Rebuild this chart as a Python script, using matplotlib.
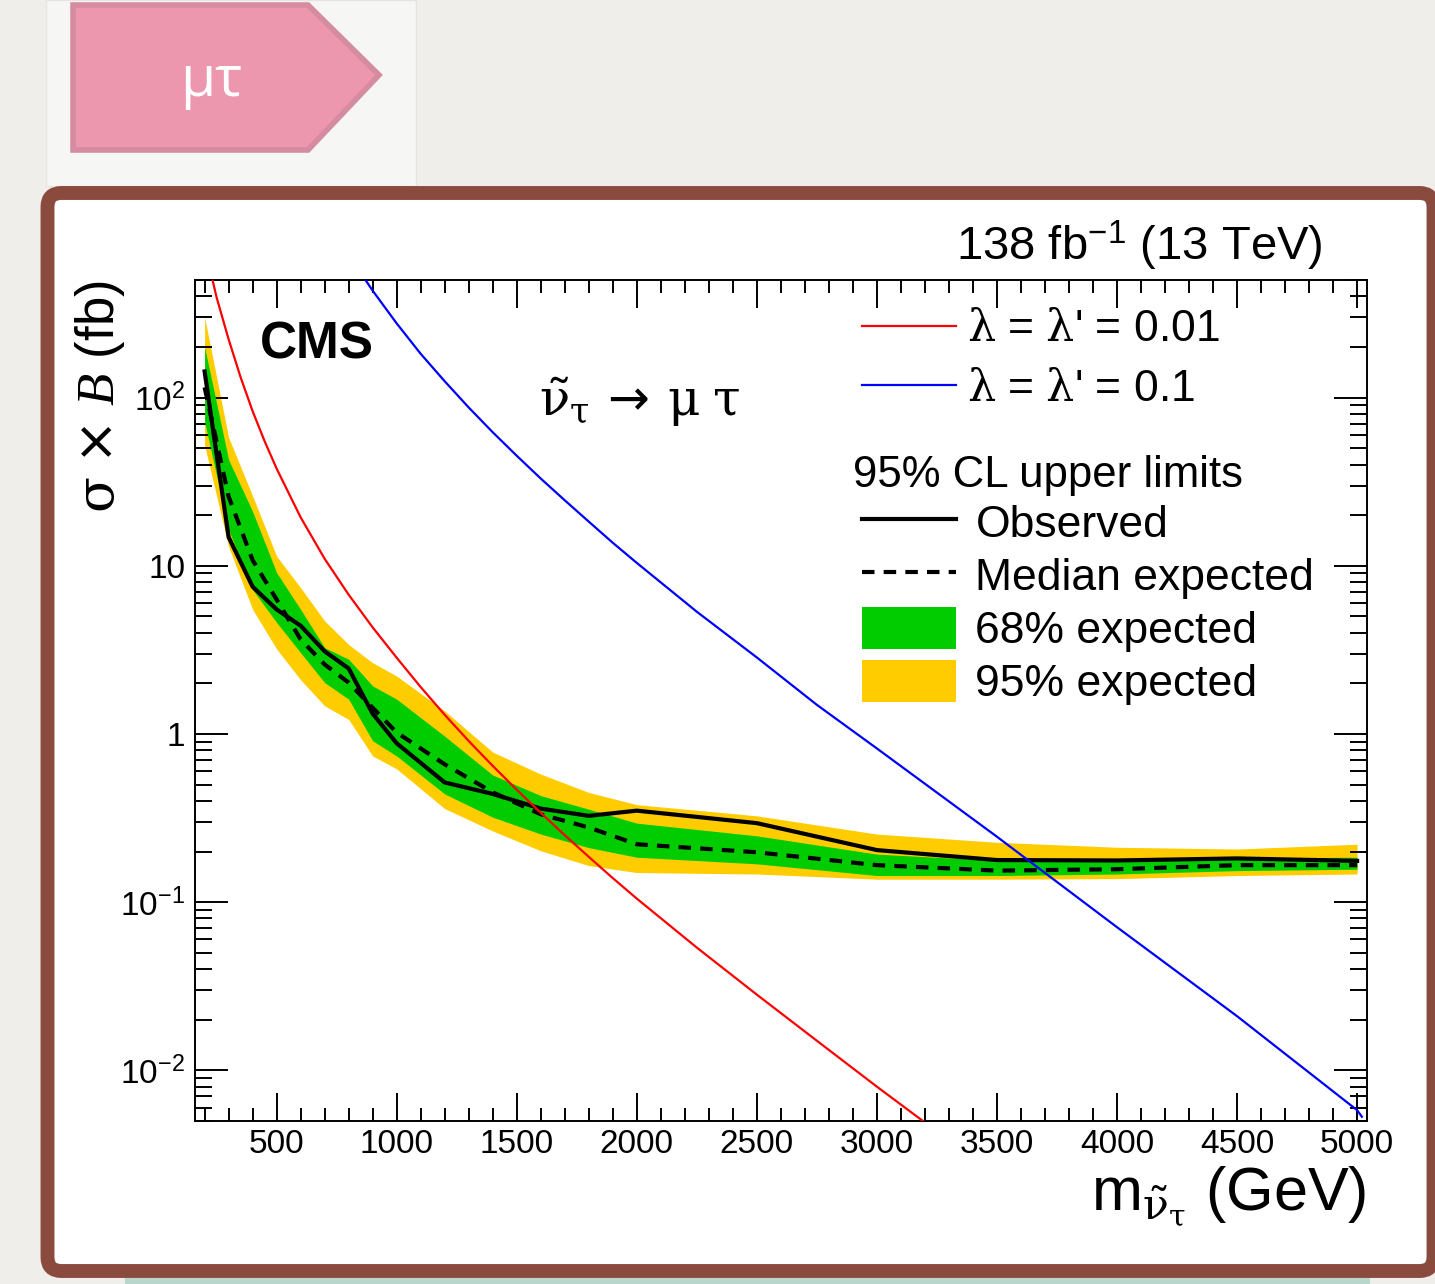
import matplotlib
matplotlib.use('Agg')
import numpy as np
import matplotlib.pyplot as plt
from matplotlib.patches import Polygon, FancyBboxPatch, Rectangle, Patch
from matplotlib.lines import Line2D
from matplotlib.ticker import LogLocator, MultipleLocator, NullFormatter

plt.rcParams['font.family'] = ['Liberation Sans', 'DejaVu Sans']
plt.rcParams['mathtext.fontset'] = 'custom'
plt.rcParams['mathtext.rm'] = 'Liberation Sans'
plt.rcParams['mathtext.it'] = 'DejaVu Serif'
plt.rcParams['mathtext.sf'] = 'DejaVu Sans'
plt.rcParams['mathtext.cal'] = 'Liberation Serif:italic'
plt.rcParams['mathtext.bf'] = 'Liberation Sans:bold'

# limite superior al 95% CL, canal mu-tau
masa = [200, 300, 400, 500, 600, 700, 800, 900, 1000, 1200, 1400, 1600,
        1800, 2000, 2500, 3000, 3500, 4000, 4500, 5000]
observado = [143, 14.8, 7.5, 5.5, 4.4, 3.1, 2.45, 1.32, 0.88, 0.515, 0.44,
             0.36, 0.326, 0.35, 0.295, 0.204, 0.178, 0.177, 0.182, 0.176]
esperado = [115, 25.8, 10.8, 6.3, 3.65, 2.59, 2.02, 1.43, 1.02, 0.66, 0.45,
            0.333, 0.278, 0.221, 0.198, 0.166, 0.154, 0.157, 0.166, 0.166]
banda68_alta = [200, 42.7, 21, 9.1, 5.5, 3.26, 2.78, 1.93, 1.61, 0.97, 0.57,
                0.43, 0.357, 0.295, 0.248, 0.193, 0.177, 0.177, 0.183, 0.185]
banda68_baja = [72, 16.4, 7.2, 4.6, 3.04, 2.02, 1.61, 0.91, 0.74, 0.44, 0.32,
                0.254, 0.211, 0.185, 0.169, 0.144, 0.144, 0.147, 0.154, 0.157]
banda95_alta = [300, 58, 26, 11.4, 7.4, 4.7, 3.4, 2.65, 2.21, 1.37, 0.78,
                0.577, 0.449, 0.38, 0.326, 0.254, 0.227, 0.212, 0.207, 0.221]
banda95_baja = [52, 13, 5.5, 3.2, 2.1, 1.47, 1.22, 0.74, 0.62, 0.36, 0.265,
                0.202, 0.165, 0.150, 0.147, 0.137, 0.137, 0.138, 0.144, 0.147]

# secciones eficaces teoricas
masa_001 = [220, 250, 300, 350, 400, 450, 500, 600, 700, 800, 900, 1000, 1100,
            1200, 1300, 1400, 1500, 1600, 1700, 1800, 1900, 2000, 2250, 2500,
            2750, 3000, 3200]
teoria_001 = [600, 394, 222, 132, 83, 55, 37.8, 19.4, 11.0, 6.73, 4.3, 2.84, 1.90,
              1.30, 0.908, 0.646, 0.466, 0.340, 0.250, 0.186, 0.139, 0.105, 0.0537,
              0.0282, 0.0150, 0.0080, 0.0049]
masa_01 = [860, 900, 1000, 1100, 1200, 1300, 1400, 1500, 1600, 1700, 1800,
           1900, 2000, 2250, 2500, 2750, 3000, 3500, 4000, 4500, 5000, 5020]
teoria_01 = [525, 432, 276, 182, 125, 87.3, 62.2, 45.1, 33.0, 24.5, 18.3, 13.7,
             10.4, 5.33, 2.85, 1.49, 0.82, 0.245, 0.071, 0.021, 0.0058, 0.0053]

etiquetas_teoria = [r"$\lambda$ = $\lambda$' = 0.01", r"$\lambda$ = $\lambda$' = 0.1"]
etiquetas_limites = ['Observed', 'Median expected', '68% expected', '95% expected']
yticks_val = [0.01, 0.1, 1, 10, 100]
yticks_txt = [r'$\mathregular{10^{-2}}$', r'$\mathregular{10^{-1}}$', '1', '10',
              r'$\mathregular{10^{2}}$']

VERDE = '#00CC00'
AMARILLO = '#FFCC00'
MARRON = '#8A4B3E'

fig = plt.figure(figsize=(14.35, 12.84), dpi=100)
fig.patch.set_facecolor('#EFEEEB')

# fondo de la diapositiva (coordenadas en pixeles)
fondo = fig.add_axes([0, 0, 1, 1], zorder=0)
fondo.set_xlim(0, 1435)
fondo.set_ylim(1284, 0)
fondo.axis('off')
fondo.add_patch(Rectangle((46, 0), 370, 186, fc='#F6F6F4', ec='#E6E5E2', lw=1))
fondo.add_patch(Polygon([(73, 5), (308, 5), (379, 75), (308, 150), (73, 150)],
                        closed=True, fc='#EC97AE', ec='#D58CA0', lw=4))
fondo.text(211, 82, 'μτ', color='white', fontsize=41, family=['Open Sans', 'DejaVu Sans'],
           ha='center', va='center')
fondo.add_patch(Rectangle((125, 1278), 1245, 8, fc='#B9D6CC', ec='none'))
fondo.add_patch(FancyBboxPatch((47.5, 193), 1386, 1078,
                               boxstyle='round,pad=0,rounding_size=14',
                               fc='white', ec=MARRON, lw=10))

ax = fig.add_axes([195 / 1435, 1 - 1121 / 1284, 1171.7 / 1435, 841 / 1284], zorder=2)
ax.set_facecolor('white')

ax.fill_between(masa, banda95_baja, banda95_alta, color=AMARILLO, lw=0, zorder=1)
ax.fill_between(masa, banda68_baja, banda68_alta, color=VERDE, lw=0, zorder=2)
ax.plot(masa, esperado, color='black', lw=3, ls=(0, (3, 2.2)), zorder=3)
ax.plot(masa, observado, color='black', lw=3, zorder=4)
ax.plot(masa_001, teoria_001, color='#FF0000', lw=1.6, zorder=5)
ax.plot(masa_01, teoria_01, color='#0000FF', lw=1.6, zorder=5)

ax.set_yscale('log')
ax.set_xlim(160, 5040)
ax.set_ylim(0.005, 500)

ax.xaxis.set_major_locator(MultipleLocator(500))
ax.xaxis.set_minor_locator(MultipleLocator(100))
ax.set_xticks(range(500, 5001, 500), [str(v) for v in range(500, 5001, 500)])
ax.set_yticks(yticks_val, yticks_txt)
ax.yaxis.set_minor_locator(LogLocator(base=10, subs=np.arange(2, 10)))
ax.yaxis.set_minor_formatter(NullFormatter())

ax.tick_params(which='both', direction='in', top=True, right=True, width=1.4,
               labelsize=24)
ax.xaxis.set_tick_params(which='major', length=20, pad=6)
ax.xaxis.set_tick_params(which='minor', length=9.5)
ax.yaxis.set_tick_params(which='major', length=24, pad=7)
ax.yaxis.set_tick_params(which='minor', length=12)
for lado in ax.spines.values():
    lado.set_linewidth(1.4)

ax.set_xlabel(r'$\mathrm{m}_{\tilde{\nu}_{\tau}}$ (GeV)', fontsize=44, loc='right')
ax.xaxis.set_label_coords(1.0, -0.052)
ax.set_ylabel(r'$\sigma\;\mathsf{\times}\;\mathcal{B}$ (fb)', fontsize=38, loc='top')
ax.yaxis.set_label_coords(-0.058, 1.0)

ax.text(0.0555, 0.907, 'CMS', transform=ax.transAxes, fontsize=37,
        fontweight='bold', va='baseline')
ax.text(0.9627, 1.0238, r'138 fb$^{\mathregular{-1}}$ (13 TeV)', transform=ax.transAxes,
        fontsize=34, ha='right', va='baseline')
ax.text(0.294, 0.838, r'$\tilde{\nu}_{\tau}\,\mathsf{\rightarrow}\,\mu\;\tau$',
        transform=ax.transAxes, fontsize=36, va='baseline')

lineas_teoria = [Line2D([], [], color='#FF0000', lw=1.6),
                 Line2D([], [], color='#0000FF', lw=1.6)]
leg1 = ax.legend(lineas_teoria, etiquetas_teoria, loc='upper left',
                 bbox_to_anchor=(0.5693, 0.965), frameon=False, fontsize=32,
                 handlelength=2.12, handletextpad=0.25, labelspacing=0.41,
                 borderpad=0, borderaxespad=0)
ax.add_artist(leg1)

ax.text(0.5616, 0.768, '95% CL upper limits', transform=ax.transAxes,
        fontsize=31.5, va='center')
marcas_limites = [Line2D([], [], color='black', lw=3),
                  Line2D([], [], color='black', lw=3, ls=(0, (3, 2.2))),
                  Patch(fc=VERDE, lw=0), Patch(fc=AMARILLO, lw=0)]
leg2 = ax.legend(marcas_limites, etiquetas_limites, loc='upper left',
                 bbox_to_anchor=(0.5693, 0.7375), frameon=False, fontsize=32,
                 handlelength=2.12, handleheight=1.06, handletextpad=0.43,
                 labelspacing=0.185, borderpad=0, borderaxespad=0)

fig.savefig('out.png', dpi=100)
